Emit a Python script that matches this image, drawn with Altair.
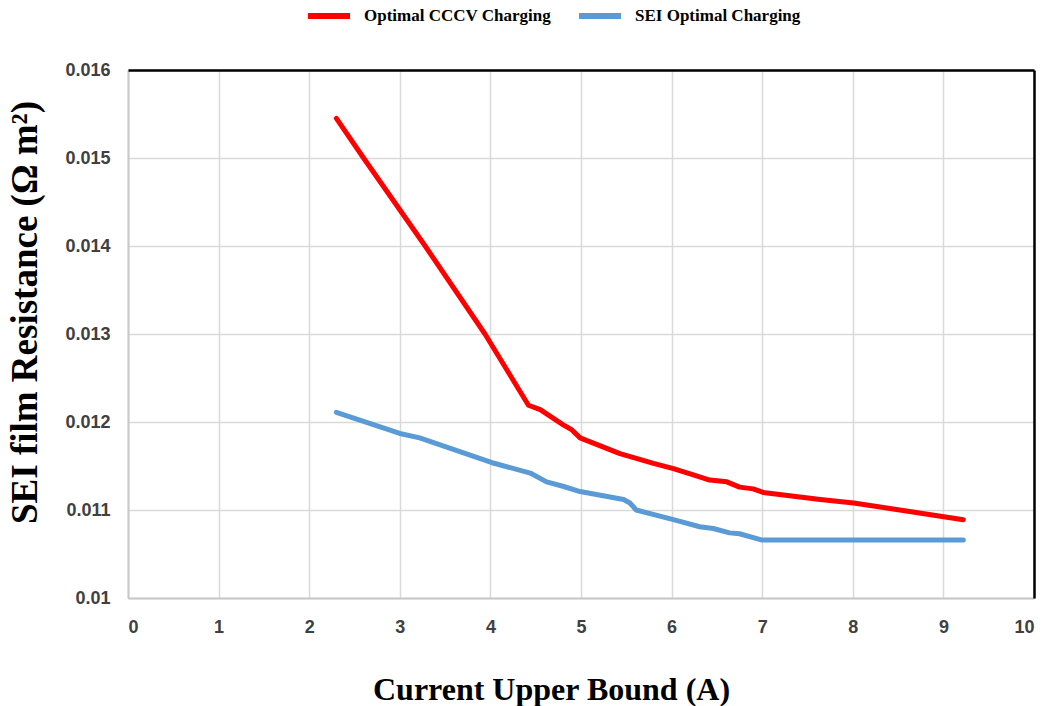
import altair as alt
import pandas as pd

series_names = ["Optimal CCCV Charging", "SEI Optimal Charging"]
series_colors = ["#ff0000", "#5b9bd5"]

cccv_x = [2.30, 2.60, 3.28, 3.94, 4.42, 4.55, 4.80, 4.90, 4.99, 5.43, 5.80, 6.02, 6.24, 6.42, 6.61, 6.75, 6.90, 7.01, 7.64, 8.01, 9.22]
cccv_y = [0.01545, 0.01500, 0.01400, 0.01300, 0.01219, 0.01214, 0.01197, 0.01191, 0.01182, 0.01164, 0.01153, 0.01147, 0.01140, 0.01134, 0.01132, 0.01126, 0.01124, 0.01120, 0.01112, 0.01108, 0.01089]

sei_x = [2.30, 3.00, 3.22, 4.01, 4.44, 4.62, 4.80, 4.99, 5.47, 5.54, 5.61, 6.02, 6.31, 6.46, 6.64, 6.75, 6.99, 9.22]
sei_y = [0.01211, 0.01187, 0.01182, 0.01154, 0.01142, 0.01132, 0.01127, 0.01121, 0.01112, 0.01108, 0.01100, 0.01089, 0.01081, 0.01079, 0.01074, 0.01073, 0.01066, 0.01066]

x_ticks = list(range(0, 11))
y_ticks = [0.010, 0.011, 0.012, 0.013, 0.014, 0.015, 0.016]

rows = []
for i, (xv, yv) in enumerate(zip(cccv_x, cccv_y)):
    rows.append({"series": series_names[0], "x": xv, "y": yv, "order": i})
for i, (xv, yv) in enumerate(zip(sei_x, sei_y)):
    rows.append({"series": series_names[1], "x": xv, "y": yv, "order": i})
df = pd.DataFrame(rows)

serif = "Liberation Serif"
sans = "Liberation Sans"

x_scale = alt.Scale(domain=[0, 10], nice=False, zero=False)
y_scale = alt.Scale(domain=[0.010, 0.016], nice=False, zero=False)

lines = alt.Chart(df).mark_line(strokeWidth=5, strokeCap="round", strokeJoin="round").encode(
    x=alt.X("x:Q", scale=x_scale,
            axis=alt.Axis(values=x_ticks, title="Current Upper Bound (A)",
                          format="d", labelFont=sans, labelFontSize=18, labelFontWeight="bold",
                          labelColor="#404040", labelPadding=20, ticks=False,
                          domainColor="#c8c8c8", domainWidth=2,
                          gridColor="#d9d9d9", gridWidth=1.5,
                          titleFont=serif, titleFontSize=32, titleFontWeight="bold",
                          titleColor="#000000", titleX=423, titleY=101,
                          titleBaseline="alphabetic", titleAlign="center")),
    y=alt.Y("y:Q", scale=y_scale,
            axis=alt.Axis(values=y_ticks, title="SEI film Resistance (Ω m²)",
                          format=".3~f", labelFont=sans, labelFontSize=18, labelFontWeight="bold",
                          labelColor="#404040", labelPadding=18, ticks=False,
                          domainColor="#c8c8c8", domainWidth=2,
                          gridColor="#d9d9d9", gridWidth=1.5,
                          titleFont=serif, titleFontSize=37, titleFontWeight="bold",
                          titleColor="#000000", titleX=-84, titleY=242,
                          titleAngle=270, titleBaseline="bottom", titleAlign="center")),
    color=alt.Color("series:N",
                    scale=alt.Scale(domain=series_names, range=series_colors),
                    legend=alt.Legend(title=None, orient="none", direction="horizontal",
                                      legendX=177, legendY=-78,
                                      symbolType="stroke", symbolSize=1764, symbolStrokeWidth=6,
                                      labelFont=serif, labelFontSize=17, labelFontWeight="bold",
                                      labelColor="#000000", labelOffset=11, columnPadding=15,
                                      labelLimit=400)),
    order="order:Q",
)

border = alt.Chart(df).mark_line(opacity=0).encode(
    x=alt.X("x:Q", scale=x_scale,
            axis=alt.Axis(orient="top", title=None, labels=False, ticks=False, grid=False,
                          domainColor="#000000", domainWidth=2.5, zindex=2)),
    y=alt.Y("y:Q", scale=y_scale,
            axis=alt.Axis(orient="right", title=None, labels=False, ticks=False, grid=False,
                          domainColor="#000000", domainWidth=2.5, zindex=2)),
    detail="series:N",
)

chart = alt.layer(lines, border).resolve_axis(x="independent", y="independent").properties(
    width=906, height=528,
    padding={"left": 128, "top": 70, "right": 13, "bottom": 108},
    autosize=alt.AutoSizeParams(type="none"),
).configure_view(stroke=None).configure(background="#ffffff")

chart.save("out.html", embed_options={"renderer": "svg", "actions": False})
